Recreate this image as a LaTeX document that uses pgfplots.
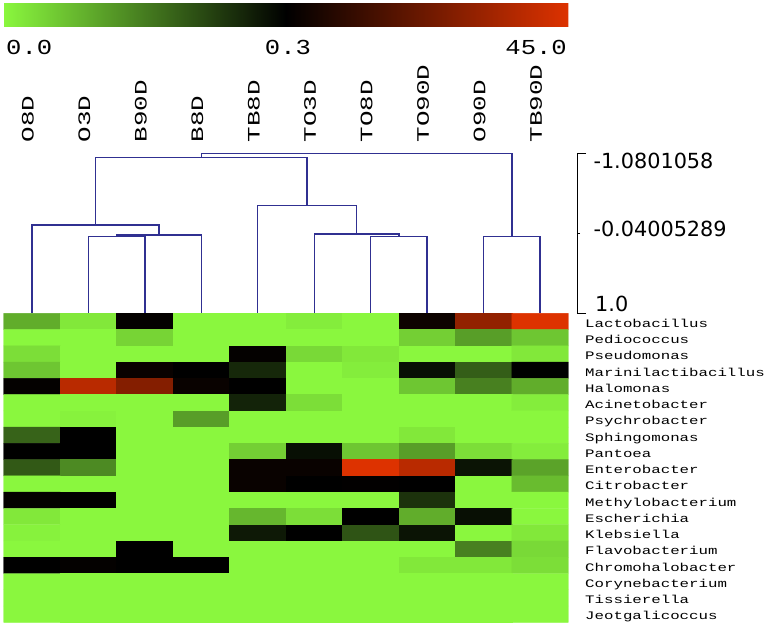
\documentclass[border=0pt]{standalone}
\usepackage{pgfplots}
\pgfplotsset{compat=1.18}
\usepackage{pgfplotstable}
\usepackage{fontspec}
\setmainfont{Liberation Mono}
\newfontfamily\rowfont[FakeStretch=1.37]{Liberation Mono}
\newfontfamily\colfont[FakeStretch=1.48]{Liberation Mono}
\newfontfamily\barfont[FakeStretch=1.2]{Liberation Mono}
\newfontfamily\scalefont{DejaVu Sans}
\definecolor{dendro}{RGB}{48,48,145}
\pgfplotsset{colormap={gbr}{rgb255(0cm)=(138,247,62) rgb255(1cm)=(0,0,0) rgb255(2cm)=(221,50,0)}}

% heat values: 0 = green (0.0), 0.5 = black (0.3), 1 = red (45.0)
\pgfplotstableread{
x y c
0 0 0.15
1 0 0.03
2 0 0.51
3 0 0
4 0 0
5 0 0.02
6 0 0
7 0 0.53
8 0 0.83
9 0 1.0
0 1 0
1 1 0
2 1 0.07
3 1 0
4 1 0
5 1 0
6 1 0
7 1 0.08
8 1 0.18
9 1 0.10
0 2 0.05
1 2 0
2 2 0
3 2 0
4 2 0.51
5 2 0.06
6 2 0.03
7 2 0
8 2 0
9 2 0.03
0 3 0.10
1 3 0
2 3 0.52
3 3 0.50
4 3 0.42
5 3 0
6 3 0.02
7 3 0.47
8 3 0.31
9 3 0.50
0 4 0.51
1 4 0.92
2 4 0.80
3 4 0.52
4 4 0.50
5 4 0
6 4 0
7 4 0.10
8 4 0.24
9 4 0.15
0 5 0
1 5 0
2 5 0
3 5 0
4 5 0.43
5 5 0.05
6 5 0
7 5 0
8 5 0
9 5 0.02
0 6 0
1 6 0.01
2 6 0
3 6 0.18
4 6 0
5 6 0
6 6 0
7 6 0
8 6 0
9 6 0
0 7 0.30
1 7 0.50
2 7 0
3 7 0
4 7 0
5 7 0
6 7 0
7 7 0.03
8 7 0
9 7 0
0 8 0.50
1 8 0.50
2 8 0
3 8 0
4 8 0.08
5 8 0.47
6 8 0.10
7 8 0.18
8 8 0.05
9 8 0.02
0 9 0.32
1 9 0.22
2 9 0
3 9 0
4 9 0.52
5 9 0.52
6 9 1.0
7 9 0.92
8 9 0.46
9 9 0.17
0 10 0
1 10 0
2 10 0
3 10 0
4 10 0.52
5 10 0.50
6 10 0.505
7 10 0.50
8 10 0
9 10 0.12
0 11 0.51
1 11 0.50
2 11 0
3 11 0
4 11 0
5 11 0
6 11 0
7 11 0.40
8 11 0
9 11 0
0 12 0.03
1 12 0
2 12 0
3 12 0
4 12 0.13
5 12 0.05
6 12 0.50
7 12 0.15
8 12 0.47
9 12 0
0 13 0.01
1 13 0
2 13 0
3 13 0
4 13 0.45
5 13 0.50
6 13 0.33
7 13 0.46
8 13 0
9 13 0.03
0 14 0
1 14 0
2 14 0.50
3 14 0
4 14 0
5 14 0
6 14 0
7 14 0
8 14 0.24
9 14 0.06
0 15 0.50
1 15 0.51
2 15 0.50
3 15 0.50
4 15 0
5 15 0
6 15 0
7 15 0.03
8 15 0.03
9 15 0.05
0 16 0
1 16 0
2 16 0
3 16 0
4 16 0
5 16 0
6 16 0
7 16 0
8 16 0
9 16 0
0 17 0
1 17 0
2 17 0
3 17 0
4 17 0
5 17 0
6 17 0
7 17 0
8 17 0
9 17 0
0 18 0
1 18 0
2 18 0
3 18 0
4 18 0
5 18 0
6 18 0
7 18 0
8 18 0
9 18 0
}\heat

\begin{document}
\begin{tikzpicture}
\path[use as bounding box] (0pt,0pt) rectangle (772pt,627pt);

% heat map, with the colour bar above it
\begin{axis}[at={(3.7pt,4.7pt)}, anchor=south west, scale only axis,
  width=564.6pt, height=309pt, xmin=-0.5, xmax=9.5, ymin=-0.5, ymax=18.5,
  y dir=reverse, axis line style={draw=none}, xtick=\empty, ytick=\empty,
  colormap name=gbr, point meta min=0, point meta max=1,
  colorbar horizontal, colorbar/width=23pt,
  colorbar style={at={(parent axis.north west)}, anchor=west,
    yshift=306.5pt, scale only axis, width=564.6pt, height=23pt,
    xtick=\empty, ytick=\empty, axis line style={draw=none}}]
\addplot[matrix plot*, mesh/cols=10, point meta=explicit] table[meta=c] {\heat};
\end{axis}

% dendrogram with its scale
\begin{axis}[at={(3.7pt,314pt)}, anchor=south west, scale only axis,
  width=573.3pt, height=159.7pt, xmin=-0.5, xmax=9.654,
  ymin=-1.0801058, ymax=1.0, y dir=reverse, clip=false,
  axis x line=none, axis y line*=right, ytick pos=right,
  y axis line style={-, black, line width=0.8pt},
  ytick={-1.0801058,1.0}, yticklabels={},
  extra y ticks={-0.04005289}, extra y tick labels={},
  tick align=outside, major tick length=9pt,
  extra y tick style={major tick length=3pt},
  tick style={black, line width=0.8pt}]
\addplot[dendro, line width=1.4pt] coordinates {(1,1) (1,0.006) (2,0.006) (2,1)};
\addplot[dendro, line width=1.4pt] coordinates {(1.5,0.006) (1.5,-0.016) (3,-0.016) (3,1)};
\addplot[dendro, line width=1.4pt] coordinates {(0,1) (0,-0.147) (2.25,-0.147) (2.25,-0.016)};
\addplot[dendro, line width=1.4pt] coordinates {(6,1) (6,0.006) (7,0.006) (7,1)};
\addplot[dendro, line width=1.4pt] coordinates {(5,1) (5,-0.029) (6.5,-0.029) (6.5,0.006)};
\addplot[dendro, line width=1.4pt] coordinates {(4,1) (4,-0.398) (5.75,-0.398) (5.75,-0.029)};
\addplot[dendro, line width=1.4pt] coordinates {(1.125,-0.147) (1.125,-1.028) (4.875,-1.028) (4.875,-0.398)};
\addplot[dendro, line width=1.4pt] coordinates {(8,1) (8,0.006) (9,0.006) (9,1)};
\addplot[dendro, line width=1.4pt] coordinates {(3,-1.028) (3,-1.0801058) (8.5,-1.0801058) (8.5,0.006)};
\end{axis}

% colour bar labels
\node[anchor=base west, inner sep=0, font=\barfont\fontsize{21.3}{23}\selectfont] at (6pt,572pt) {0.0};
\node[anchor=base, inner sep=0, font=\barfont\fontsize{21.3}{23}\selectfont] at (288pt,572pt) {0.3};
\node[anchor=base east, inner sep=0, font=\barfont\fontsize{21.3}{23}\selectfont] at (567pt,572pt) {45.0};

% dendrogram scale labels
\node[anchor=base west, inner sep=0, font=\scalefont\fontsize{20.8}{22}\selectfont] at (593.3pt,458.7pt) {-1.0801058};
\node[anchor=base west, inner sep=0, font=\scalefont\fontsize{20.8}{22}\selectfont] at (593.3pt,390.3pt) {-0.04005289};
\node[anchor=base west, inner sep=0, font=\scalefont\fontsize{20.8}{22}\selectfont] at (595pt,315.3pt) {1.0};

% column labels
\foreach \lab [count=\i from 0] in {O8D,O3D,B90D,B8D,TB8D,TO3D,TO8D,TO90D,O90D,TB90D}{
  \node[rotate=90, anchor=west, inner sep=0, font=\colfont\fontsize{17.5}{19}\selectfont]
    at ({(27.9+56.46*\i)*1pt},484.5pt) {\lab};
}

% row labels
\foreach \lab [count=\i from 0] in {Lactobacillus,Pediococcus,Pseudomonas,Marinilactibacillus,Halomonas,Acinetobacter,Psychrobacter,Sphingomonas,Pantoea,Enterobacter,Citrobacter,Methylobacterium,Escherichia,Klebsiella,Flavobacterium,Chromohalobacter,Corynebacterium,Tissierella,Jeotgalicoccus}{
  \node[anchor=base west, inner sep=0, font=\rowfont\fontsize{11.5}{13}\selectfont]
    at (585pt,{(627-327.3-16.26*\i)*1pt}) {\lab};
}
\end{tikzpicture}
\end{document}
